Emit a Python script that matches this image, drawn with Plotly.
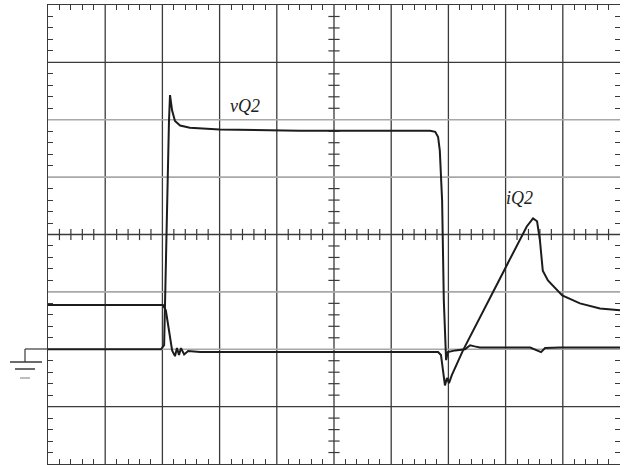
import plotly.graph_objects as go

# Oscilloscope traces, in screen divisions (x: 0..10, y: -4..4)
vq2_t = [0, 1.975, 2.03, 2.08, 2.115, 2.133, 2.17, 2.22, 2.31, 2.48, 3.0, 4.4, 5.5,
         6.68, 6.77, 6.82, 6.85, 6.89, 6.92, 6.96, 6.99, 7.12, 7.29, 7.38, 7.46, 7.55,
         8.43, 8.55, 8.62, 8.69, 8.95, 10]
vq2_v = [-2.0, -2.0, -1.93, 0.59, 1.98, 2.43, 2.16, 1.98, 1.90, 1.86, 1.83, 1.81, 1.81,
         1.81, 1.79, 1.70, 1.46, 0.59, -1.15, -2.19, -2.05, -2.02, -2.0, -1.93, -1.95, -1.97,
         -1.97, -2.02, -2.05, -1.98, -1.97, -1.97]

iq2_t = [0, 2.01, 2.06, 2.115, 2.17, 2.22, 2.255, 2.29, 2.325, 2.38, 2.45, 2.66, 4.41,
         6.82, 6.87, 6.906, 6.94, 6.975, 7.01, 7.06, 7.255, 7.90, 8.25, 8.37, 8.48, 8.55,
         8.60, 8.65, 8.74, 8.86, 8.99, 9.30, 9.65, 10]
iq2_v = [-1.23, -1.23, -1.32, -1.67, -2.02, -2.12, -1.98, -2.10, -1.98, -2.09, -2.03, -2.05, -2.05,
         -2.05, -2.10, -2.37, -2.63, -2.50, -2.59, -2.45, -2.02, -0.77, -0.10, 0.14, 0.28, 0.23,
         -0.10, -0.63, -0.80, -0.92, -1.06, -1.20, -1.29, -1.32]

labels = ["vQ2", "iQ2"]
label_pos = [(3.44, 2.24), (8.25, 0.63)]

x_divs = list(range(1, 10))
y_divs = [3, 2, 1, -1, -2, -3]
y_div_dark = [True, False, False, False, False, True]

TRACE = "#1c1c1c"
DARK = "#3a3a3a"
GREY = "#a8a8a8"

fig = go.Figure()

shapes = []
for xv in x_divs:
    shapes.append(dict(type="line", xref="x", yref="y", x0=xv, x1=xv, y0=-4, y1=4,
                       line=dict(color=DARK, width=1.3), layer="below"))
for yv, dk in zip(y_divs, y_div_dark):
    shapes.append(dict(type="line", xref="x", yref="y", x0=0, x1=10, y0=yv, y1=yv,
                       line=dict(color=DARK if dk else GREY, width=1.3 if dk else 1.6),
                       layer="below"))
# center crosshair
shapes.append(dict(type="line", xref="x", yref="y", x0=0, x1=10, y0=0, y1=0,
                   line=dict(color=DARK, width=1.5), layer="below"))

# ground symbol (pixel positions converted to paper coords)
def px(x):
    return (x - 48) / 572.0
def py(y):
    return (464 - y) / 459.0

gnd = [
    (25, 349, 48, 349, DARK, 1.2),
    (25, 349, 25, 362, DARK, 1.2),
    (10, 362, 42, 362, DARK, 1.5),
    (15, 369, 35, 369, DARK, 1.5),
    (20, 378, 30, 378, GREY, 1.5),
]
for x0, y0, x1, y1, c, w in gnd:
    shapes.append(dict(type="line", xref="paper", yref="paper", x0=px(x0), x1=px(x1),
                       y0=py(y0), y1=py(y1), line=dict(color=c, width=w)))

# center minor ticks
tick_pos_x = [i / 5 for i in range(1, 50) if i % 5 != 0]
tick_pos_y = [i / 5 - 4 for i in range(1, 40) if i % 5 != 0]
fig.add_trace(go.Scatter(x=tick_pos_x, y=[0] * len(tick_pos_x), mode="markers",
                         marker=dict(symbol="line-ns", size=8, line=dict(color=DARK, width=1.2)),
                         hoverinfo="skip", showlegend=False))
fig.add_trace(go.Scatter(x=[5] * len(tick_pos_y), y=tick_pos_y, mode="markers",
                         marker=dict(symbol="line-ew", size=8, line=dict(color=DARK, width=1.2)),
                         hoverinfo="skip", showlegend=False))
# invisible trace to anchor the right-hand tick axis
fig.add_trace(go.Scatter(x=[None], y=[None], yaxis="y2", mode="lines",
                         hoverinfo="skip", showlegend=False))

fig.add_trace(go.Scatter(x=vq2_t, y=vq2_v, mode="lines", name="vQ2",
                         line=dict(color=TRACE, width=2), showlegend=False))
fig.add_trace(go.Scatter(x=iq2_t, y=iq2_v, mode="lines", name="iQ2",
                         line=dict(color=TRACE, width=2), showlegend=False))

annotations = []
for lab, (lx, ly) in zip(labels, label_pos):
    annotations.append(dict(x=lx, y=ly, xref="x", yref="y", text="<i>%s</i>" % lab,
                            showarrow=False,
                            font=dict(family="Liberation Serif", size=18, color="#222")))

minor_ticks = dict(dtick=0.2, ticks="inside", ticklen=5, tickcolor=DARK, tickwidth=1.1)

fig.update_layout(
    width=628, height=465,
    margin=dict(l=48, r=8, t=5, b=1),
    paper_bgcolor="white", plot_bgcolor="white",
    shapes=shapes, annotations=annotations,
    xaxis=dict(range=[0, 10], dtick=1, tick0=0, minor=minor_ticks,
               showgrid=False, zeroline=False, showticklabels=False,
               showline=True, linecolor=DARK, linewidth=1.4, mirror="ticks",
               ticks="inside", ticklen=0, fixedrange=True),
    yaxis=dict(range=[-4, 4], dtick=1, tick0=0, minor=minor_ticks,
               showgrid=False, zeroline=False, showticklabels=False,
               showline=True, linecolor=DARK, linewidth=1.2, mirror=False,
               ticks="inside", ticklen=0, fixedrange=True),
    yaxis2=dict(range=[-4, 4], dtick=1, tick0=0, minor=minor_ticks,
                overlaying="y", side="right", anchor="x",
                showgrid=False, zeroline=False, showticklabels=False,
                showline=False, ticks="inside", ticklen=0, fixedrange=True),
)

fig.write_html("out.html", config={"displayModeBar": False},
               post_script="document.body.style.margin='0';document.body.style.overflow='hidden';")
